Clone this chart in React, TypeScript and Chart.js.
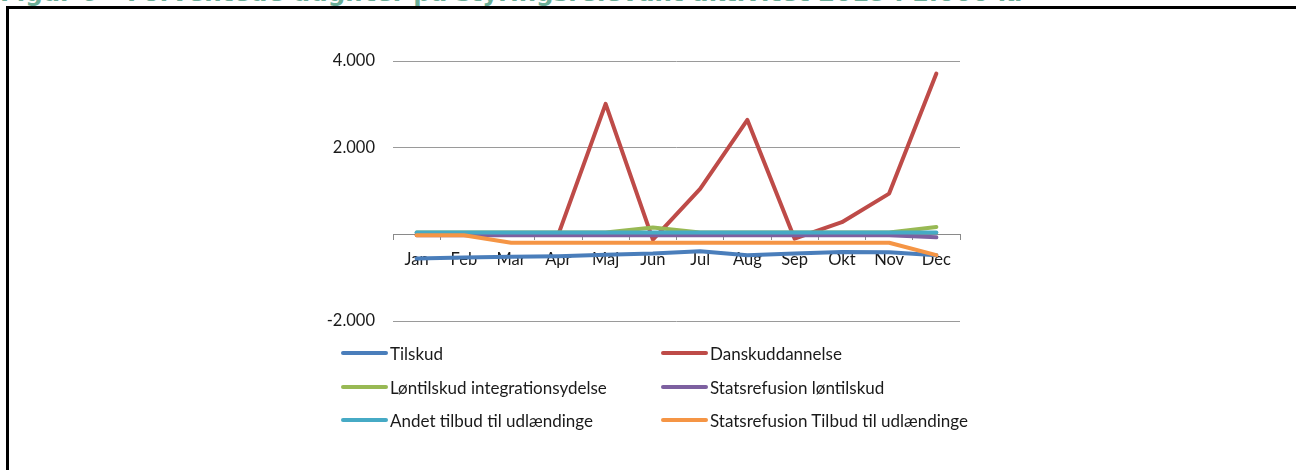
import React, { useEffect, useRef } from 'react';
import { Chart, registerables } from 'chart.js';

Chart.register(...registerables);

const months = ['Jan', 'Feb', 'Mar', 'Apr', 'Maj', 'Jun', 'Jul', 'Aug', 'Sep', 'Okt', 'Nov', 'Dec'];

const seriesNames = [
  'Tilskud',
  'Danskuddannelse',
  'Løntilskud integrationsydelse',
  'Statsrefusion løntilskud',
  'Andet tilbud til udlændinge',
  'Statsrefusion Tilbud til udlændinge',
];

const tilskud = [-560, -535, -520, -505, -470, -445, -390, -480, -440, -410, -415, -480];
const danskuddannelse = [0, 0, 0, 0, 3010, -120, 1050, 2640, -100, 280, 940, 3710];
const lontilskudIntegration = [40, 40, 40, 40, 40, 160, 40, 40, 40, 40, 40, 170];
const statsrefusionLontilskud = [-20, -20, -20, -20, -20, -20, -20, -20, -20, -20, -20, -70];
const andetTilbud = [45, 45, 45, 45, 45, 45, 45, 45, 45, 45, 45, 45];
const statsrefusionTilbud = [-20, -20, -195, -195, -195, -195, -195, -195, -195, -195, -195, -480];

const seriesValues = [
  tilskud,
  danskuddannelse,
  lontilskudIntegration,
  statsrefusionLontilskud,
  andetTilbud,
  statsrefusionTilbud,
];

const colors = ['#4A7EBB', '#BE4B48', '#98B954', '#7D60A0', '#46AAC5', '#F59545'];

const yMin = -2000;
const yMax = 4000;
const yStep = 2000;

const titleText = 'Figur 6 – Forventede udgifter på styringsrelevant aktivitet 2015 i 1.000 kr';

const FONT = 'Lato, "Open Sans", sans-serif';
const FONT_SIZE = 16.5;
const LEGEND_FONT_SIZE = 17;

function formatNumber(v: number): string {
  if (v === 0) return '';
  const sign = v < 0 ? '-' : '';
  const s = Math.abs(Math.round(v)).toString();
  return sign + s.replace(/\B(?=(\d{3})+(?!\d))/g, '.');
}

export default function App() {
  const canvasRef = useRef<HTMLCanvasElement | null>(null);

  useEffect(() => {
    if (!canvasRef.current) return;
    const chart = new Chart(canvasRef.current, {
      type: 'line',
      data: {
        labels: months,
        datasets: seriesNames.map((name, i) => ({
          label: name,
          data: seriesValues[i],
          borderColor: colors[i],
          backgroundColor: colors[i],
          borderWidth: 4,
          pointRadius: 0,
          tension: 0,
          fill: false,
          borderCapStyle: 'round' as const,
          borderJoinStyle: 'round' as const,
          order: seriesNames.length - i,
        })),
      },
      options: {
        responsive: false,
        animation: false,
        layout: {
          padding: { left: 313, right: 336, top: 61, bottom: 149 },
        },
        plugins: {
          legend: { display: false },
          tooltip: { enabled: false },
          title: { display: false },
        },
        scales: {
          x: {
            type: 'category',
            position: { y: 0 } as any,
            offset: true,
            grid: {
              display: true,
              drawOnChartArea: false,
              drawTicks: true,
              tickLength: 5,
              offset: true,
              color: '#8a8a8a',
            },
            border: { display: true, color: '#8a8a8a', width: 1 },
            ticks: {
              padding: 10,
              color: '#1a1a1a',
              font: { family: FONT, size: FONT_SIZE },
              maxRotation: 0,
              autoSkip: false,
            },
          },
          y: {
            type: 'linear',
            min: yMin,
            max: yMax,
            afterFit: (scale: any) => {
              scale.width = 80;
            },
            ticks: {
              stepSize: yStep,
              padding: 18,
              color: '#1a1a1a',
              font: { family: FONT, size: FONT_SIZE },
              callback: (v: any) => formatNumber(Number(v)),
            },
            grid: {
              color: '#9a9a9a',
              drawTicks: false,
              lineWidth: 1,
            },
            border: { display: false },
          },
        },
      },
    });
    return () => chart.destroy();
  }, []);

  const legendCols = [341, 661];
  const legendRows = [353, 387, 420];

  return (
    <div
      style={{
        position: 'fixed',
        left: 0,
        top: 0,
        width: 1296,
        height: 470,
        overflow: 'hidden',
        background: '#ffffff',
      }}
    >
      <div
        style={{
          position: 'absolute',
          left: 0,
          top: -19,
          whiteSpace: 'nowrap',
          fontFamily: '"DejaVu Sans", Verdana, sans-serif',
          fontWeight: 'bold',
          fontSize: 24.5,
          lineHeight: '24px',
          color: '#6BAE97',
        }}
      >
        {titleText}
      </div>
      <div
        style={{
          position: 'absolute',
          left: 6,
          top: 6,
          width: 1500,
          height: 800,
          border: '3px solid #000',
          boxSizing: 'border-box',
        }}
      />
      <canvas
        ref={canvasRef}
        width={1296}
        height={470}
        style={{ position: 'absolute', left: 0, top: 0, width: 1296, height: 470 }}
      />
      {seriesNames.map((name, i) => {
        const col = i % 2;
        const row = Math.floor(i / 2);
        const x = legendCols[col];
        const y = legendRows[row];
        return (
          <div
            key={name}
            style={{
              position: 'absolute',
              left: x,
              top: y - 11,
              height: 22,
              display: 'flex',
              alignItems: 'center',
              whiteSpace: 'nowrap',
              fontFamily: FONT,
              fontSize: LEGEND_FONT_SIZE,
              color: '#1a1a1a',
            }}
          >
            <span
              style={{
                display: 'inline-block',
                width: 47,
                height: 4,
                borderRadius: 2,
                background: colors[i],
                marginRight: 2,
              }}
            />
            <span>{name}</span>
          </div>
        );
      })}
    </div>
  );
}
